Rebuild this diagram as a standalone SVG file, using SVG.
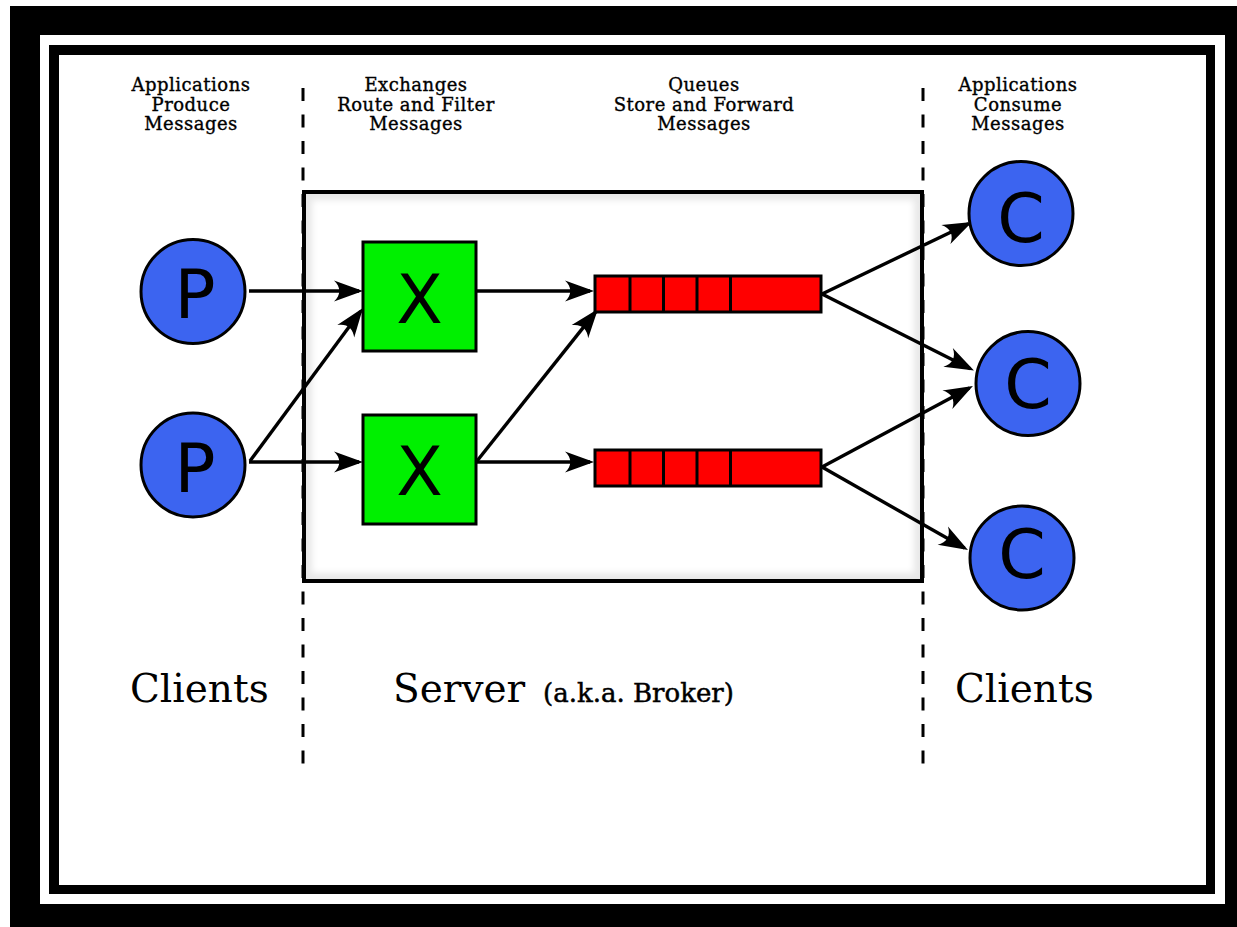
<svg xmlns="http://www.w3.org/2000/svg" width="1237" height="927" viewBox="0 0 1237 927">
  <style>
    .lbl { font-family: "DejaVu Serif", "Liberation Serif", serif; font-size: 18px; letter-spacing: 0.5px; fill: #000; stroke: #000; stroke-width: 0.35; text-anchor: middle; }
    .big { font-family: "DejaVu Serif", "Liberation Serif", serif; font-size: 39px; fill: #000; }
    .mid { font-family: "DejaVu Serif", "Liberation Serif", serif; font-size: 26px; fill: #000; stroke: #000; stroke-width: 0.5; }
    .glyph { font-family: "DejaVu Sans", "Liberation Sans", sans-serif; font-size: 68px; fill: #000; text-anchor: middle; }
    .client { fill: #3c64f0; stroke: #000; stroke-width: 3; }
    .exch { fill: #00f000; stroke: #000; stroke-width: 3; }
    .queue { fill: #ff0000; stroke: #000; stroke-width: 3; }
    .div { stroke: #000; stroke-width: 3; }
    .conn { stroke: #000; stroke-width: 3.4; fill: none; marker-end: url(#arrow); }
    .dash { stroke: #000; stroke-width: 3; stroke-dasharray: 13 13.5; fill: none; }
  </style>
  <defs>
    <marker id="arrow" markerUnits="userSpaceOnUse" markerWidth="40" markerHeight="30" viewBox="-30 -15 40 30" refX="0" refY="0" orient="auto" overflow="visible">
      <path d="M4,0 L-25,-10.5 C-18,-4 -18,4 -25,10.5 Z" fill="#000"/>
    </marker>
    <filter id="soft" x="-5%" y="-5%" width="110%" height="110%">
      <feGaussianBlur stdDeviation="3"/>
    </filter>
  </defs>

  <!-- frames -->
  <rect x="0" y="0" width="1237" height="927" fill="#fff"/>
  <rect x="10" y="6" width="1227" height="921" fill="#000"/>
  <rect x="40" y="35" width="1185" height="869" fill="#fff"/>
  <rect x="49" y="45" width="1166" height="849" fill="#000"/>
  <rect x="59" y="55" width="1147" height="830" fill="#fff"/>

  <!-- column labels -->
  <g id="label-producers">
    <text class="lbl" x="191" y="91">Applications</text>
    <text class="lbl" x="191" y="110.5">Produce</text>
    <text class="lbl" x="191" y="130">Messages</text>
  </g>
  <g id="label-exchanges">
    <text class="lbl" x="416" y="91">Exchanges</text>
    <text class="lbl" x="416" y="110.5">Route and Filter</text>
    <text class="lbl" x="416" y="130">Messages</text>
  </g>
  <g id="label-queues">
    <text class="lbl" x="704" y="91">Queues</text>
    <text class="lbl" x="704" y="110.5">Store and Forward</text>
    <text class="lbl" x="704" y="130">Messages</text>
  </g>
  <g id="label-consumers">
    <text class="lbl" x="1018" y="91">Applications</text>
    <text class="lbl" x="1018" y="110.5">Consume</text>
    <text class="lbl" x="1018" y="130">Messages</text>
  </g>

  <!-- dashed separators -->
  <g id="separators">
    <line class="dash" x1="303" y1="88" x2="303" y2="777"/>
    <line class="dash" x1="923" y1="88" x2="923" y2="777"/>
  </g>

  <!-- server box -->
  <g id="server">
    <rect x="304" y="192" width="618" height="389" fill="#e8e8e8"/>
    <rect x="312" y="200" width="602" height="373" fill="#fff" filter="url(#soft)"/>
    <rect x="304" y="192" width="618" height="389" fill="none" stroke="#000" stroke-width="4"/>
  </g>

  <!-- bottom labels -->
  <g id="label-clients-left">
    <text class="big" x="130" y="702">Clients</text>
  </g>
  <g id="label-server">
    <text class="big" x="393" y="702">Server</text>
    <text class="mid" x="543" y="702">(a.k.a. Broker)</text>
  </g>
  <g id="label-clients-right">
    <text class="big" x="955" y="702">Clients</text>
  </g>

  <!-- connectors -->
  <g id="connectors">
    <line class="conn" x1="249" y1="291" x2="359" y2="291"/>
    <line class="conn" x1="250" y1="461" x2="360.6" y2="311.2"/>
    <line class="conn" x1="249" y1="462" x2="359" y2="462"/>
    <line class="conn" x1="477" y1="291" x2="590" y2="291"/>
    <line class="conn" x1="477" y1="461" x2="595.5" y2="312.1"/>
    <line class="conn" x1="477" y1="462" x2="590" y2="462"/>
    <line class="conn" x1="822" y1="294" x2="968.4" y2="223.7"/>
    <line class="conn" x1="822" y1="294" x2="970.4" y2="368.7"/>
    <line class="conn" x1="822" y1="467" x2="969.4" y2="387.9"/>
    <line class="conn" x1="822" y1="467" x2="964.5" y2="548.1"/>
  </g>

  <!-- producers -->
  <g id="producer-1">
    <circle class="client" cx="193" cy="291.5" r="52"/>
    <text class="glyph" x="195" y="318">P</text>
  </g>
  <g id="producer-2">
    <circle class="client" cx="193" cy="465" r="52"/>
    <text class="glyph" x="195" y="492">P</text>
  </g>

  <!-- exchanges -->
  <g id="exchange-1">
    <rect class="exch" x="363" y="242" width="113" height="109"/>
    <text class="glyph" x="419.5" y="323">X</text>
  </g>
  <g id="exchange-2">
    <rect class="exch" x="363" y="415" width="113" height="109"/>
    <text class="glyph" x="419.5" y="495">X</text>
  </g>

  <!-- queues -->
  <g id="queue-1">
    <rect class="queue" x="595" y="276" width="226" height="36"/>
    <line class="div" x1="630" y1="276" x2="630" y2="312"/>
    <line class="div" x1="663.5" y1="276" x2="663.5" y2="312"/>
    <line class="div" x1="697" y1="276" x2="697" y2="312"/>
    <line class="div" x1="730.5" y1="276" x2="730.5" y2="312"/>
  </g>
  <g id="queue-2">
    <rect class="queue" x="595" y="450" width="226" height="36"/>
    <line class="div" x1="630" y1="450" x2="630" y2="486"/>
    <line class="div" x1="663.5" y1="450" x2="663.5" y2="486"/>
    <line class="div" x1="697" y1="450" x2="697" y2="486"/>
    <line class="div" x1="730.5" y1="450" x2="730.5" y2="486"/>
  </g>

  <!-- consumers -->
  <g id="consumer-1">
    <circle class="client" cx="1021" cy="213.5" r="52"/>
    <text class="glyph" x="1021" y="242">C</text>
  </g>
  <g id="consumer-2">
    <circle class="client" cx="1028" cy="383.5" r="52"/>
    <text class="glyph" x="1028" y="408">C</text>
  </g>
  <g id="consumer-3">
    <circle class="client" cx="1022" cy="558" r="52"/>
    <text class="glyph" x="1022" y="578">C</text>
  </g>
</svg>
